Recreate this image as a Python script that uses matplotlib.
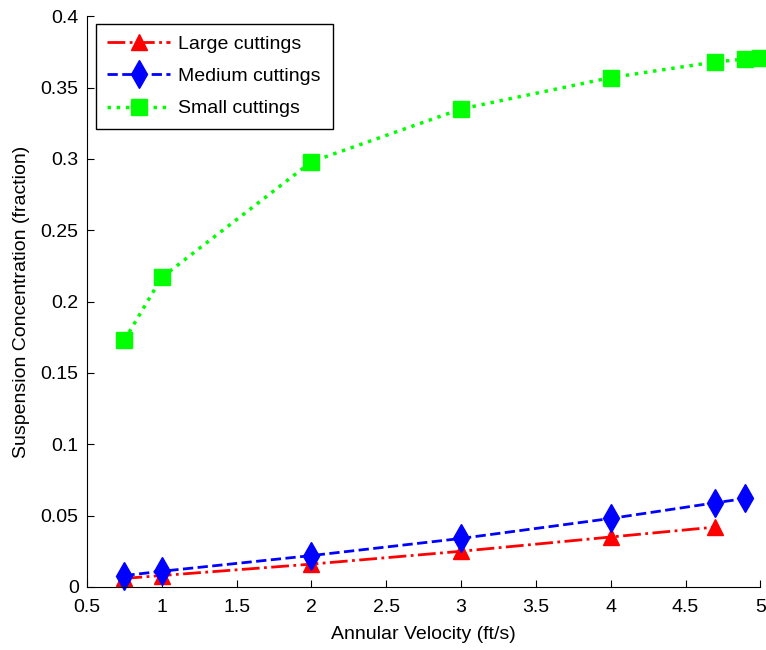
import numpy as np
import matplotlib
matplotlib.use("Agg")
import matplotlib.pyplot as plt

plt.rcParams['font.family'] = ['Liberation Sans', 'DejaVu Sans']

# annular velocity (ft/s) for each cutting size
vel_large = [0.75, 1, 2, 3, 4, 4.7]
vel_medium = [0.75, 1, 2, 3, 4, 4.7, 4.9]
vel_small = [0.75, 1, 2, 3, 4, 4.7, 4.9, 5]

# suspension concentration (fraction)
conc_large = [0.006, 0.008, 0.016, 0.025, 0.035, 0.042]
conc_medium = [0.008, 0.011, 0.022, 0.034, 0.048, 0.059, 0.062]
conc_small = [0.173, 0.217, 0.298, 0.335, 0.357, 0.368, 0.370, 0.371]

xticks = [0.5, 1, 1.5, 2, 2.5, 3, 3.5, 4, 4.5, 5]
yticks = [0, 0.05, 0.1, 0.15, 0.2, 0.25, 0.3, 0.35, 0.4]
xtick_labels = ["0.5", "1", "1.5", "2", "2.5", "3", "3.5", "4", "4.5", "5"]
ytick_labels = ["0", "0.05", "0.1", "0.15", "0.2", "0.25", "0.3", "0.35", "0.4"]

fig = plt.figure(figsize=(7.66, 6.5), dpi=100)
ax = fig.add_axes([0.1136, 0.097, 0.879, 0.878])

ax.plot(vel_large, conc_large, color="red", linestyle="-.", linewidth=2,
        marker="^", markersize=11, label="Large cuttings", clip_on=False)
ax.plot(vel_medium, conc_medium, color="blue", linestyle="--", linewidth=2,
        marker="d", markersize=14, label="Medium cuttings", clip_on=False)
ax.plot(vel_small, conc_small, color="#00ff00", linestyle=":", linewidth=2.5,
        marker="s", markersize=11, label="Small cuttings", clip_on=False)

ax.set_xlim(0.5, 5)
ax.set_ylim(0, 0.4)
ax.set_xticks(xticks)
ax.set_xticklabels(xtick_labels)
ax.set_yticks(yticks)
ax.set_yticklabels(ytick_labels)
ax.tick_params(direction="in", length=5, labelsize=14)
ax.tick_params(axis="x", pad=9)
ax.tick_params(axis="y", pad=6)

ax.spines["top"].set_visible(False)
ax.spines["right"].set_visible(False)

ax.set_xlabel("Annular Velocity (ft/s)", fontsize=14, labelpad=7)
ax.set_ylabel("Suspension Concentration (fraction)", fontsize=14, labelpad=8)

leg = ax.legend(loc="upper left", bbox_to_anchor=(0.013, 0.987), fontsize=14,
                handlelength=3.2, handletextpad=0.45, borderpad=0.6,
                labelspacing=0.75, borderaxespad=0,
                fancybox=False, framealpha=1)
leg.get_frame().set_edgecolor("black")
leg.get_frame().set_linewidth(1)

fig.savefig("out.png", dpi=100)
